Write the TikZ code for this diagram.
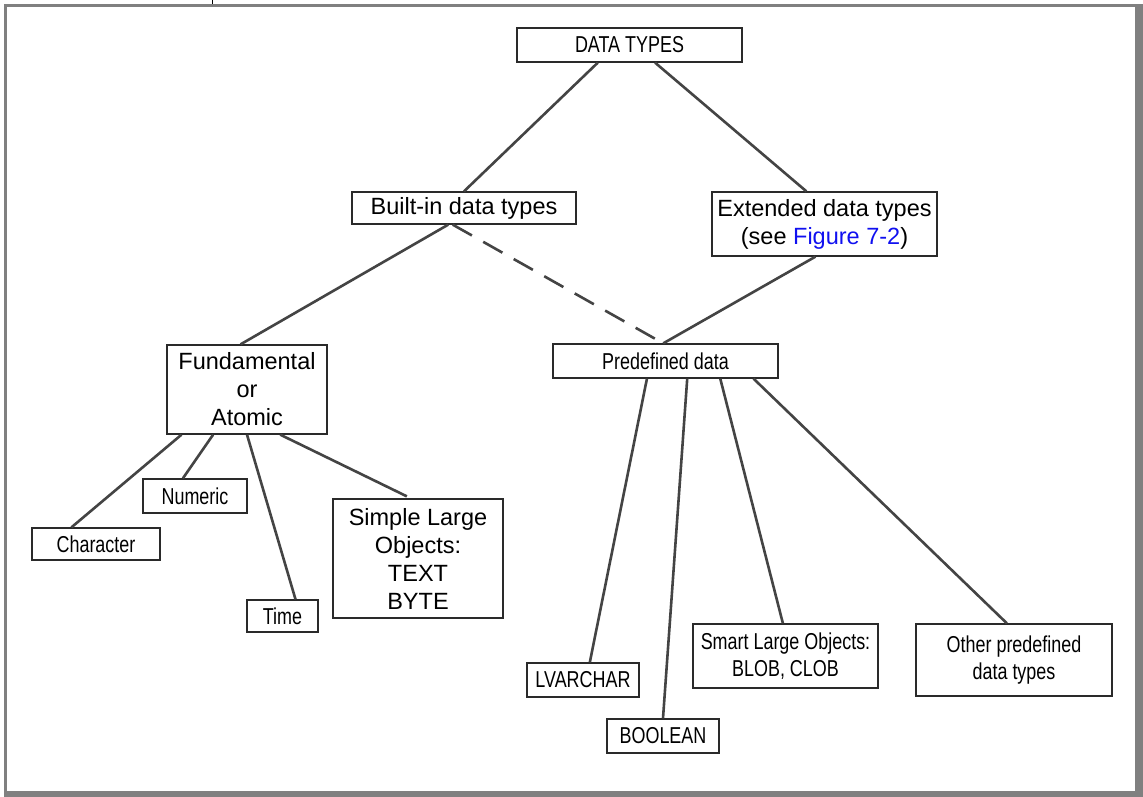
\documentclass[tikz,border=0pt]{standalone}
\usepackage{fontspec}
\setmainfont{Liberation Sans}
\newfontfamily\narrowfont[FakeStretch=0.78]{Liberation Sans}
\usetikzlibrary{calc}
\definecolor{framegray}{HTML}{808080}
\definecolor{linkgray}{HTML}{444444}
\definecolor{boxline}{HTML}{2A2A2A}
\definecolor{xrefblue}{HTML}{1010F0}
\tikzset{
  box/.style={draw=boxline, line width=1.3pt, rectangle, inner sep=0pt, align=center},
  widebox/.style={box, font=\fontsize{23.5}{28}\selectfont},
  narrowbox/.style={box, font=\narrowfont\fontsize{23}{27.5}\selectfont},
  link/.style={draw=linkgray, line width=2.6pt},
  dashlink/.style={link, dash pattern=on 22pt off 13pt},
}
\begin{document}
\begin{tikzpicture}[x=1pt,y=-1pt]
\useasboundingbox (0,0) rectangle (1143,797);
% page frame
\fill[white] (0,0) rectangle (1143,797);
\fill[framegray] (4,4) rectangle (1143,7);
\fill[framegray] (4,4) rectangle (7,797);
\fill[framegray] (1135,4) rectangle (1143,797);
\fill[framegray] (4,791) rectangle (1143,797);
\draw[black, line width=1pt] (212,0) -- (212,4);

% boxes
\node[narrowbox, minimum width=225pt, minimum height=34pt] (dt) at (629.5,45) {DATA TYPES};
\node[widebox, minimum width=224pt, minimum height=32pt] (bi) at (464,208) {Built-in data types};
\node[widebox, minimum width=225pt, minimum height=64pt] (ext) at (824.5,224) {Extended data types\\(see \textcolor{xrefblue}{Figure 7-2})};
\node[widebox, minimum width=160pt, minimum height=89pt] (fund) at (247,389.5) {Fundamental\\or\\Atomic};
\node[narrowbox, minimum width=225pt, minimum height=34pt] (pre) at (665.5,361) {Predefined data};
\node[narrowbox, minimum width=128pt, minimum height=32pt] (chr) at (96,544) {Character};
\node[narrowbox, minimum width=104pt, minimum height=34pt] (num) at (195,496) {Numeric};
\node[narrowbox, minimum width=71pt, minimum height=32pt] (tim) at (282.5,616) {Time};
\node[widebox, minimum width=170pt, minimum height=119pt] (slo) at (418,558.5) {Simple Large\\Objects:\\TEXT\\BYTE};
\node[narrowbox, minimum width=112pt, minimum height=34pt] (lvc) at (583,680) {LVARCHAR};
\node[narrowbox, minimum width=112pt, minimum height=34pt] (bool) at (663,736) {BOOLEAN};
\node[narrowbox, minimum width=185pt, minimum height=64pt] (smart) at (785.5,656) {Smart Large Objects:\\BLOB, CLOB};
\node[narrowbox, minimum width=196pt, minimum height=72pt] (other) at (1014,660) {Other predefined\\data types};

% connectors
\draw[link] ($(dt.south west)!0.36!(dt.south east)$) -- (bi.north);
\draw[link] ($(dt.south west)!0.613!(dt.south east)$) -- ($(ext.north west)!0.42!(ext.north east)$);
\draw[link] ($(bi.south west)!0.43!(bi.south east)$) -- ($(fund.north west)!0.46!(fund.north east)$);
\draw[dashlink] ($(bi.south west)!0.45!(bi.south east)$) -- ($(pre.north west)!0.49!(pre.north east)$);
\draw[link] ($(ext.south west)!0.46!(ext.south east)$) -- ($(pre.north west)!0.49!(pre.north east)$);
\draw[link] ($(fund.south west)!0.094!(fund.south east)$) -- ($(chr.north west)!0.31!(chr.north east)$);
\draw[link] ($(fund.south west)!0.29!(fund.south east)$) -- ($(num.north west)!0.385!(num.north east)$);
\draw[link] (fund.south) -- ($(tim.north west)!0.68!(tim.north east)$);
\draw[link] ($(fund.south west)!0.706!(fund.south east)$) -- ($(slo.north west)!0.435!(slo.north east)+(0,-2)$);
\draw[link] ($(pre.south west)!0.418!(pre.south east)$) -- ($(lvc.north west)!0.56!(lvc.north east)$);
\draw[link] ($(pre.south west)!0.596!(pre.south east)$) -- (bool.north);
\draw[link] ($(pre.south west)!0.742!(pre.south east)$) -- ($(smart.north west)!0.486!(smart.north east)$);
\draw[link] ($(pre.south west)!0.889!(pre.south east)$) -- ($(other.north west)!0.464!(other.north east)$);
\end{tikzpicture}
\end{document}
